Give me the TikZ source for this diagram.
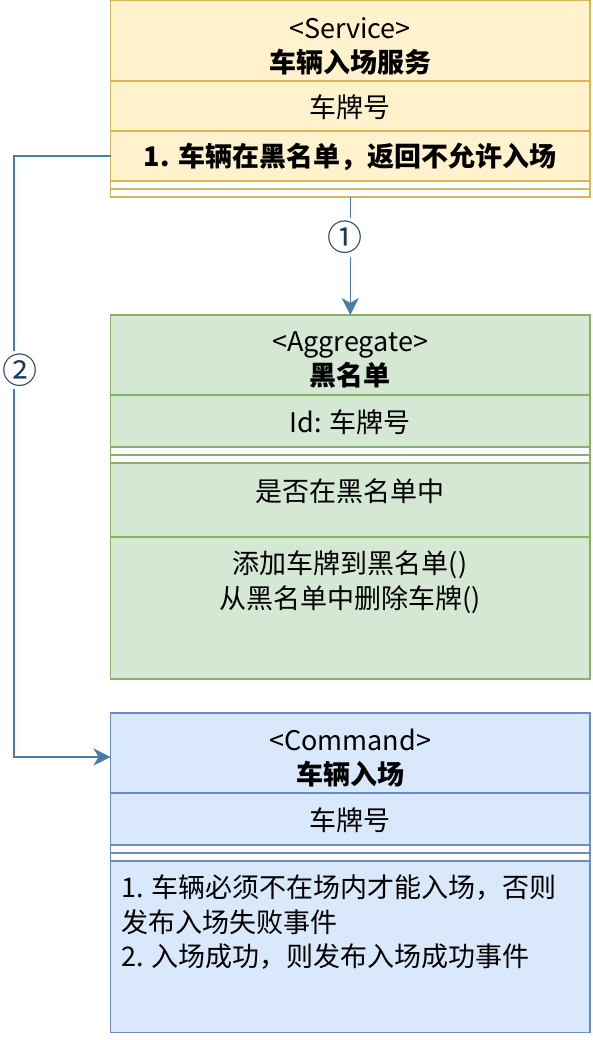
\documentclass[tikz,border=0pt]{standalone}
\usepackage{fontspec}
\setmainfont{Noto Sans CJK SC}
\usetikzlibrary{arrows.meta}
\definecolor{yfill}{HTML}{FFF2CC}
\definecolor{ydraw}{HTML}{D6B656}
\definecolor{gfill}{HTML}{D5E8D4}
\definecolor{gdraw}{HTML}{82B366}
\definecolor{bfill}{HTML}{DAE8FC}
\definecolor{bdraw}{HTML}{6C8EBF}
\definecolor{conncol}{HTML}{4A7DA6}
\definecolor{lblcol}{HTML}{1B3A5C}
\tikzset{
  cell/.style={draw, line width=1.5pt, inner sep=0pt, outer sep=0pt, anchor=north west, minimum width=479.5pt},
  svc/.style={cell, draw=ydraw, fill=yfill},
  agg/.style={cell, draw=gdraw, fill=gfill},
  cmd/.style={cell, draw=bdraw, fill=bfill},
  sepw/.style={fill=white},
  txt/.style={font=\fontsize{27}{34.5}\selectfont, align=center, inner sep=0pt},
  conn/.style={draw=conncol, line width=1.5pt, -{Stealth[length=17pt, width=17pt, inset=5pt]}},
  lbl/.style={font=\fontsize{35}{40}\selectfont, text=lblcol, fill=white, inner xsep=0pt, inner ysep=3pt}
}
\begin{document}
\begin{tikzpicture}[x=1pt,y=-1pt]
\useasboundingbox (0,0) rectangle (592,1040);
% Service box
\node[svc, minimum height=80.25pt] (svcHead) at (110.5,0.75) {};
\node[svc, minimum height=50pt] (svcAttr) at (110.5,81) {};
\node[svc, minimum height=50pt] (svcOp) at (110.5,131) {};
\node[svc, sepw, minimum height=16pt] (svcSep) at (110.5,181) {};
\draw[ydraw, line width=1.5pt] (svcSep.west) -- (svcSep.east);
\node[txt] (svcTitle) at (350,46.5) {<Service>\\\textbf{车辆入场服务}};
\node[txt] (svcAttrTxt) at (350,107) {车牌号};
\node[txt] (svcOpTxt) at (350,157) {\textbf{1. 车辆在黑名单，返回不允许入场}};
% Aggregate box
\node[agg, minimum height=80pt] (aggHead) at (110.5,315) {};
\node[agg, minimum height=52pt] (aggAttr) at (110.5,395) {};
\node[agg, sepw, minimum height=16pt] (aggSep) at (110.5,447) {};
\draw[gdraw, line width=1.5pt] (aggSep.west) -- (aggSep.east);
\node[agg, minimum height=74pt] (aggOp1) at (110.5,463) {};
\node[agg, minimum height=142pt] (aggOp2) at (110.5,537) {};
\node[txt] (aggTitle) at (350,360) {<Aggregate>\\\textbf{黑名单}};
\node[txt] (aggAttrTxt) at (350,422) {Id: 车牌号};
\node[txt] (aggOp1Txt) at (350,491) {是否在黑名单中};
\node[txt] (aggOp2Txt) at (350,582) {添加车牌到黑名单()\\从黑名单中删除车牌()};
% Command box
\node[cmd, minimum height=80pt] (cmdHead) at (110.5,713) {};
\node[cmd, minimum height=52pt] (cmdAttr) at (110.5,793) {};
\node[cmd, sepw, minimum height=16pt] (cmdSep) at (110.5,845) {};
\draw[bdraw, line width=1.5pt] (cmdSep.west) -- (cmdSep.east);
\node[cmd, minimum height=171.5pt] (cmdOp) at (110.5,861) {};
\node[txt] (cmdTitle) at (350,758) {<Command>\\\textbf{车辆入场}};
\node[txt] (cmdAttrTxt) at (350,820) {车牌号};
\node[txt, align=left, anchor=west] (cmdOpTxt) at (121,922.5) {1. 车辆必须不在场内才能入场，否则\\发布入场失败事件\\2. 入场成功，则发布入场成功事件};
% Connectors
\draw[conn] (svcSep.south) -- node[lbl, pos=0.343, xshift=-5pt] (l1) {①} (aggHead.north);
\coordinate (bend2) at (14,757);
\draw[conn] (svcOp.west) -| node[lbl, pos=0.678, xshift=6pt] (l2) {②} (bend2) -- (cmdHead.west |- bend2);
\end{tikzpicture}
\end{document}
